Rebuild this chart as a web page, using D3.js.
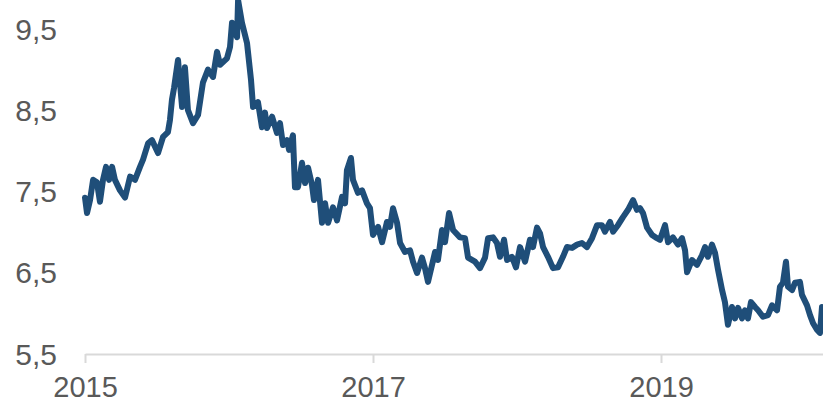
<!DOCTYPE html>
<html>
<head>
<meta charset="utf-8">
<script src="https://cdn.jsdelivr.net/npm/d3@7/dist/d3.min.js"></script>
<style>
    body { margin: 0; background: #fff; }
    svg { display: block; }
</style>
</head>
<body>
<div id="chart-area"></div>
<script>
// decimal years (x)
var years = [
    2015.000, 2015.014, 2015.035, 2015.056, 2015.083, 2015.104, 2015.125, 2015.146, 2015.167, 2015.188,
    2015.208, 2015.243, 2015.278, 2015.313, 2015.347, 2015.382, 2015.403, 2015.438, 2015.465, 2015.507,
    2015.542, 2015.576, 2015.590, 2015.604, 2015.618, 2015.646, 2015.674, 2015.694, 2015.715, 2015.750,
    2015.785, 2015.819, 2015.854, 2015.889, 2015.917, 2015.938, 2015.986, 2016.007, 2016.021, 2016.056,
    2016.063, 2016.090, 2016.125, 2016.153, 2016.167, 2016.201, 2016.229, 2016.250, 2016.264, 2016.299,
    2016.333, 2016.354, 2016.375, 2016.403, 2016.417, 2016.444, 2016.458, 2016.479, 2016.507, 2016.528,
    2016.549, 2016.576, 2016.590, 2016.618, 2016.646, 2016.667, 2016.688, 2016.722, 2016.750, 2016.785,
    2016.806, 2016.819, 2016.847, 2016.861, 2016.896, 2016.924, 2016.958, 2016.979, 2017.000, 2017.035,
    2017.063, 2017.097, 2017.118, 2017.139, 2017.167, 2017.188, 2017.222, 2017.257, 2017.278, 2017.306,
    2017.340, 2017.361, 2017.382, 2017.410, 2017.431, 2017.451, 2017.479, 2017.500, 2017.528, 2017.556,
    2017.604, 2017.639, 2017.660, 2017.708, 2017.743, 2017.778, 2017.799, 2017.833, 2017.861, 2017.882,
    2017.910, 2017.931, 2017.965, 2017.993, 2018.021, 2018.056, 2018.090, 2018.111, 2018.139, 2018.160,
    2018.181, 2018.215, 2018.250, 2018.285, 2018.319, 2018.347, 2018.382, 2018.417, 2018.451, 2018.486,
    2018.521, 2018.556, 2018.590, 2018.611, 2018.646, 2018.667, 2018.701, 2018.736, 2018.771, 2018.806,
    2018.833, 2018.854, 2018.875, 2018.903, 2018.938, 2018.972, 2018.993, 2019.028, 2019.049, 2019.083,
    2019.118, 2019.146, 2019.167, 2019.181, 2019.215, 2019.250, 2019.285, 2019.306, 2019.326, 2019.354,
    2019.375, 2019.396, 2019.424, 2019.444, 2019.465, 2019.493, 2019.514, 2019.535, 2019.563, 2019.583,
    2019.604, 2019.625, 2019.653, 2019.674, 2019.708, 2019.743, 2019.771, 2019.806, 2019.826, 2019.847,
    2019.868, 2019.882, 2019.910, 2019.931, 2019.965, 2019.979, 2020.014, 2020.035, 2020.056, 2020.083,
    2020.104, 2020.118
];

// series values
var rates = [
    7.43, 7.24, 7.40, 7.65, 7.62, 7.38, 7.65, 7.81, 7.65, 7.81,
    7.65, 7.52, 7.43, 7.69, 7.65, 7.81, 7.90, 8.10, 8.14, 7.98,
    8.18, 8.24, 8.39, 8.64, 8.78, 9.13, 8.55, 9.04, 8.51, 8.35,
    8.45, 8.85, 9.01, 8.92, 9.23, 9.07, 9.15, 9.29, 9.59, 9.41,
    9.87, 9.59, 9.34, 8.88, 8.55, 8.61, 8.30, 8.48, 8.29, 8.43,
    8.23, 8.35, 8.08, 8.14, 8.02, 8.20, 7.56, 7.56, 7.86, 7.61,
    7.80, 7.59, 7.40, 7.65, 7.12, 7.36, 7.12, 7.31, 7.15, 7.44,
    7.36, 7.77, 7.92, 7.65, 7.49, 7.52, 7.36, 7.30, 6.97, 7.07,
    6.88, 7.13, 7.07, 7.30, 7.12, 6.87, 6.76, 6.78, 6.64, 6.50,
    6.69, 6.56, 6.39, 6.60, 6.76, 6.66, 7.03, 6.88, 7.24, 7.03,
    6.94, 6.93, 6.69, 6.64, 6.56, 6.69, 6.93, 6.94, 6.87, 6.70,
    6.91, 6.66, 6.70, 6.57, 6.82, 6.64, 6.91, 6.82, 7.06, 6.99,
    6.82, 6.70, 6.56, 6.57, 6.70, 6.82, 6.81, 6.85, 6.87, 6.82,
    6.93, 7.09, 7.09, 7.01, 7.13, 7.01, 7.09, 7.19, 7.28, 7.40,
    7.28, 7.30, 7.24, 7.06, 6.97, 6.93, 6.91, 7.09, 6.88, 6.94,
    6.85, 6.93, 6.78, 6.51, 6.66, 6.60, 6.72, 6.82, 6.70, 6.85,
    6.75, 6.54, 6.29, 6.14, 5.86, 6.08, 5.94, 6.07, 5.94, 6.04,
    5.94, 6.14, 6.08, 6.04, 5.96, 5.98, 6.10, 6.04, 6.33, 6.38,
    6.64, 6.33, 6.29, 6.38, 6.39, 6.23, 6.10, 5.98, 5.88, 5.80,
    5.76, 6.08
];

// tick labels
var yTicks = [5.5, 6.5, 7.5, 8.5, 9.5];
var xTicks = [2015, 2017, 2019];

var data = years.map(function (d, i) {
    return { year: d, rate: rates[i] };
});

var W = 823, H = 404;
var margin = { left: 85, right: 0, top: 0, bottom: 50 };

var svg = d3.select("#chart-area").append("svg")
    .attr("width", W)
    .attr("height", H);

var x = d3.scaleLinear()
    .domain([2015, 2020.125])
    .range([margin.left, W - margin.right]);

var y = d3.scaleLinear()
    .domain([5.5, 9.87])
    .range([H - margin.bottom, margin.top]);

// y labels only, no axis line
svg.append("g")
    .selectAll("text")
    .data(yTicks)
    .enter()
    .append("text")
    .attr("x", 57)
    .attr("y", function (d) { return y(d); })
    .attr("dy", "0.35em")
    .attr("text-anchor", "end")
    .attr("font-family", "Liberation Sans, Arial, sans-serif")
    .attr("font-size", "30px")
    .attr("fill", "#595959")
    .text(function (d) { return d3.format(".1f")(d).replace(".", ","); });

// x axis
var xAxisCall = d3.axisBottom(x)
    .tickValues(xTicks)
    .tickFormat(d3.format("d"))
    .tickSizeInner(9)
    .tickSizeOuter(0)
    .tickPadding(13);

var xAxis = svg.append("g")
    .attr("class", "x-axis")
    .attr("transform", "translate(0," + y(5.5) + ")")
    .call(xAxisCall);

xAxis.select(".domain")
    .attr("stroke", "#d9d9d9")
    .attr("stroke-width", 2);
xAxis.selectAll(".tick line")
    .attr("stroke", "#d9d9d9")
    .attr("stroke-width", 2);
xAxis.selectAll("text")
    .attr("font-family", "Liberation Sans, Arial, sans-serif")
    .attr("font-size", "29px")
    .attr("fill", "#595959");

// the line
var line = d3.line()
    .x(function (d) { return x(d.year); })
    .y(function (d) { return y(d.rate); });

svg.append("path")
    .datum(data)
    .attr("d", line)
    .attr("fill", "none")
    .attr("stroke", "#1f4e79")
    .attr("stroke-width", 6)
    .attr("stroke-linejoin", "round")
    .attr("stroke-linecap", "round");
</script>
</body>
</html>
